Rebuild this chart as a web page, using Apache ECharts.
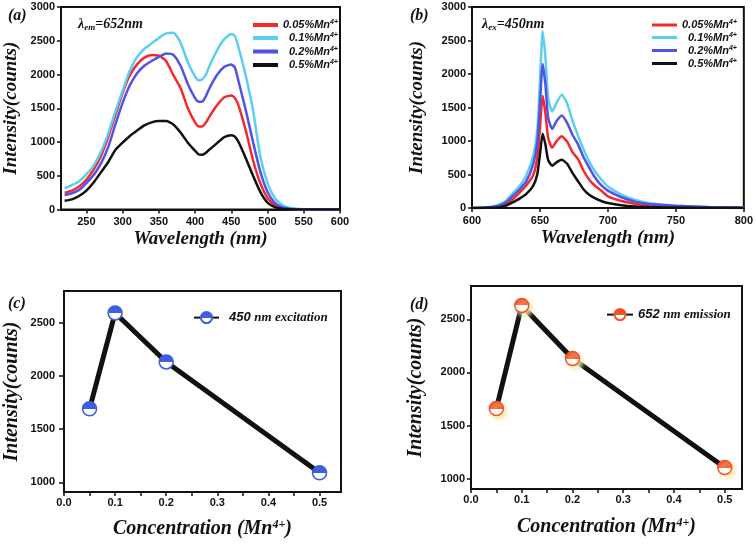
<!DOCTYPE html>
<html><head><meta charset="utf-8">
<script src="https://cdn.jsdelivr.net/npm/echarts@6/dist/echarts.min.js"></script>
<style>html,body{margin:0;padding:0;background:#fff}#c{width:756px;height:544px}</style>
</head><body><div id="c"></div>
<script>
// ---- data ----
const seriesNames = ['0.05%Mn4+', '0.1%Mn4+', '0.2%Mn4+', '0.5%Mn4+'];
const seriesColors = ['#f42a2a', '#5ccff0', '#5252e6', '#111111'];

// (a) excitation spectra, lambda_em = 652 nm
const waveA = [220,230,240,250,260,270,280,290,300,310,320,330,340,350,360,370,380,390,400,405,410,415,420,430,440,450,455,460,470,480,490,500,510,520,530,540,550,575,600];
const excA005 = [248,280,340,440,590,790,1070,1400,1730,1990,2150,2250,2290,2280,2200,1990,1800,1500,1290,1230,1230,1290,1380,1540,1660,1690,1650,1540,1170,730,390,170,65,20,5,0,0,0,0];
const excA01  = [313,360,420,520,650,850,1120,1450,1760,2060,2260,2380,2460,2540,2610,2620,2470,2180,1970,1915,1930,2000,2130,2350,2520,2600,2570,2400,1980,1470,790,390,170,70,25,10,3,0,0];
const excA02  = [214,240,290,390,510,680,920,1260,1580,1840,2020,2130,2200,2260,2310,2290,2130,1860,1650,1595,1600,1680,1800,1990,2110,2150,2100,1900,1470,1000,560,260,100,35,10,2,0,0,0];
const excA05  = [130,150,200,280,400,550,700,880,990,1090,1170,1245,1290,1310,1310,1260,1140,990,870,815,810,840,890,980,1070,1100,1080,1000,760,500,260,100,35,10,2,0,0,0,0];

// (b) emission spectra, lambda_ex = 450 nm
const waveB = [600,605,610,615,620,625,630,635,640,645,648,650,652,654,656,659,662,666,670,674,678,682,686,690,695,700,710,720,730,740,750,775,800];
const emB005 = [0,1,4,10,25,60,130,230,340,490,750,1200,1670,1420,1050,900,990,1070,990,830,730,560,430,340,260,175,105,65,40,28,20,8,2];
const emB01  = [0,2,8,22,50,110,220,330,490,780,1150,1900,2640,2250,1650,1440,1560,1690,1560,1300,1080,880,700,560,430,320,200,120,75,50,35,15,5];
const emB02  = [0,2,6,15,40,85,180,280,400,650,980,1550,2150,1850,1350,1180,1290,1380,1270,1090,950,760,610,470,340,260,160,95,60,45,32,12,3];
const emB05  = [0,1,2,5,12,35,85,140,210,330,500,800,1110,950,720,630,680,720,660,520,400,280,200,150,105,75,40,22,14,10,8,3,1];

// (c) intensity vs concentration, 450 nm excitation
const concC = [0.05, 0.1, 0.2, 0.5];
const intC  = [1690, 2590, 2130, 1090];
// (d) intensity vs concentration, 652 nm emission
const concD = [0.05, 0.1, 0.2, 0.5];
const intD  = [1660, 2630, 2130, 1105];

// tick labels
const ticksAx = [250,300,350,400,450,500,550,600];
const ticksConcLabel = [0, 0.1, 0.2, 0.3, 0.4, 0.5];
const ticksConcTick = [0,0.05,0.1,0.15,0.2,0.25,0.3,0.35,0.4,0.45,0.5];
const ticksIntCD = [1000, 1500, 2000, 2500];

// ---- styles ----
const SERIF = "'Liberation Serif','Times New Roman',serif";
const SANS = "'Liberation Sans',Arial,sans-serif";
const ink = '#111';
const plain = v => String(v);

function axisBase(extra) {
  return Object.assign({
    type: 'value',
    axisLine: { show: true, lineStyle: { color: ink, width: 2 } },
    axisTick: { show: true, length: 4, lineStyle: { color: ink, width: 1.5 } },
    axisLabel: { color: ink, fontWeight: 'bold', fontFamily: SANS, fontSize: 11, formatter: plain },
    splitLine: { show: false },
    nameLocation: 'middle',
    nameTextStyle: { color: ink, fontFamily: SERIF, fontWeight: 'bold', fontStyle: 'italic', fontSize: 19 }
  }, extra);
}
const superRich = {
  a: { fontFamily: SERIF, fontWeight: 'bold', fontStyle: 'italic', fontSize: 20, color: ink },
  s: { fontFamily: SERIF, fontWeight: 'bold', fontStyle: 'italic', fontSize: 12, color: ink, verticalAlign: 'top' }
};

function specSeries(xs, ys, idx, gi) {
  return {
    type: 'line', name: seriesNames[idx], xAxisIndex: gi, yAxisIndex: gi,
    data: xs.map((x, i) => [x, ys[i]]),
    symbol: 'none', smooth: 0.2,
    lineStyle: { width: 2.5, color: seriesColors[idx] },
    itemStyle: { color: seriesColors[idx] },
    z: 2 + idx
  };
}
function halfGrad(c) {
  return { type: 'linear', x: 0, y: 0, x2: 0, y2: 1,
    colorStops: [{ offset: 0, color: c }, { offset: 0.5, color: c }, { offset: 0.5, color: '#fff' }, { offset: 1, color: '#fff' }] };
}

// right-align legend labels: measure text and pad on the left
const mctx = document.createElement('canvas').getContext('2d');
mctx.font = "italic bold 11px 'Liberation Sans', Arial, sans-serif";
const baseOf = n => n.replace('4+', '');
const maxW = Math.max.apply(null, seriesNames.map(n => mctx.measureText(baseOf(n)).width));
const specFormatter = n => {
  const pad = Math.max(0, Math.round(maxW - mctx.measureText(baseOf(n)).width));
  return (pad > 0 ? '{p' + pad + '|}' : '') + '{t|' + baseOf(n) + '}{s|4+}';
};
const specRich = {
  t: { fontFamily: SANS, fontWeight: 'bold', fontStyle: 'italic', fontSize: 11, lineHeight: 12, color: ink },
  s: { fontFamily: SANS, fontWeight: 'bold', fontStyle: 'italic', fontSize: 7, verticalAlign: 'top', lineHeight: 12, color: ink }
};
for (let w = 1; w <= 30; w++) specRich['p' + w] = { width: w, lineHeight: 12 };
const specLegendText = { color: ink, rich: specRich };
const lblStyle = { color: ink, fontWeight: 'bold', fontFamily: SANS, fontSize: 11, formatter: plain };

const chart = echarts.init(document.getElementById('c'));
chart.setOption({
  animation: false,
  backgroundColor: '#fff',
  title: [
    { text: '(a)', left: 3, top: 3, textStyle: { fontFamily: SERIF, fontWeight: 'bold', fontStyle: 'italic', fontSize: 16, color: ink } },
    { text: '(b)', left: 405, top: 3, textStyle: { fontFamily: SERIF, fontWeight: 'bold', fontStyle: 'italic', fontSize: 16, color: ink } },
    { text: '(c)', left: 3, top: 291, textStyle: { fontFamily: SERIF, fontWeight: 'bold', fontStyle: 'italic', fontSize: 16, color: ink } },
    { text: '(d)', left: 405, top: 292, textStyle: { fontFamily: SERIF, fontWeight: 'bold', fontStyle: 'italic', fontSize: 16, color: ink } },
    { text: '{l|λ}{b|em}{l|=652nm}', left: 73, top: 11, textStyle: { rich: {
      l: { fontFamily: SERIF, fontWeight: 'bold', fontStyle: 'italic', fontSize: 14, color: ink, lineHeight: 16 },
      b: { fontFamily: SERIF, fontWeight: 'bold', fontStyle: 'italic', fontSize: 9, color: ink, verticalAlign: 'bottom', lineHeight: 16 } } } },
    { text: '{l|λ}{b|ex}{l|=450nm}', left: 477, top: 11, textStyle: { rich: {
      l: { fontFamily: SERIF, fontWeight: 'bold', fontStyle: 'italic', fontSize: 14, color: ink, lineHeight: 16 },
      b: { fontFamily: SERIF, fontWeight: 'bold', fontStyle: 'italic', fontSize: 9, color: ink, verticalAlign: 'bottom', lineHeight: 16 } } } }
  ],
  legend: [
    { data: seriesNames, orient: 'vertical', left: 248, top: 14, itemWidth: 25, itemHeight: 4, itemGap: 1.5, icon: 'rect',
      formatter: specFormatter, textStyle: specLegendText, selectedMode: false },
    { data: seriesNames, orient: 'vertical', left: 647, top: 14, itemWidth: 25, itemHeight: 3, itemGap: 1, icon: 'rect',
      formatter: specFormatter, textStyle: specLegendText, selectedMode: false },
    { data: ['450 nm excitation'], left: 188, top: 306, itemWidth: 25, itemHeight: 14, selectedMode: false,
      formatter: () => '{n|450 }{t|nm excitation}',
      textStyle: { rich: {
        n: { fontFamily: SANS, fontWeight: 'bold', fontStyle: 'italic', fontSize: 13, color: ink, padding: [0, 0, 0, 5] },
        t: { fontFamily: SERIF, fontWeight: 'bold', fontStyle: 'italic', fontSize: 13, color: ink } } } },
    { data: ['652 nm emission'], left: 601, top: 303, itemWidth: 26, itemHeight: 14, selectedMode: false,
      formatter: () => '{n|652 }{t|nm emission}',
      textStyle: { rich: {
        n: { fontFamily: SANS, fontWeight: 'bold', fontStyle: 'italic', fontSize: 13, color: ink },
        t: { fontFamily: SERIF, fontWeight: 'bold', fontStyle: 'italic', fontSize: 13, color: ink } } } }
  ],
  grid: [
    { left: 61, top: 7, width: 279, height: 202.5, show: true, borderColor: ink, borderWidth: 2 },
    { left: 472, top: 7, width: 274, height: 201, show: true, borderColor: ink, borderWidth: 2 },
    { left: 64, top: 291, width: 277, height: 201, show: true, borderColor: ink, borderWidth: 2 },
    { left: 471, top: 286, width: 271, height: 203, show: true, borderColor: ink, borderWidth: 2 }
  ],
  xAxis: [
    axisBase({ gridIndex: 0, min: 215, max: 600, name: 'Wavelength (nm)', nameGap: 20,
      axisLabel: Object.assign({}, lblStyle, { margin: 7, customValues: ticksAx }),
      axisTick: { show: true, length: 4, lineStyle: { color: ink, width: 1.5 }, customValues: ticksAx } }),
    axisBase({ gridIndex: 1, min: 600, max: 800, interval: 50, name: 'Wavelength (nm)', nameGap: 21,
      axisLabel: Object.assign({}, lblStyle, { margin: 7 }) }),
    axisBase({ gridIndex: 2, min: 0, max: 0.542, name: '{a|Concentration (Mn}{s|4+}{a|)}', nameGap: 27,
      nameTextStyle: { rich: superRich },
      axisLabel: Object.assign({}, lblStyle, { margin: 5, customValues: ticksConcLabel, formatter: v => v.toFixed(1) }),
      axisTick: { show: true, length: 4, lineStyle: { color: ink, width: 1.5 }, customValues: ticksConcTick } }),
    axisBase({ gridIndex: 3, min: 0, max: 0.534, name: '{a|Concentration (Mn}{s|4+}{a|)}', nameGap: 28,
      nameTextStyle: { rich: superRich },
      axisLabel: Object.assign({}, lblStyle, { margin: 5, customValues: ticksConcLabel, formatter: v => v.toFixed(1) }),
      axisTick: { show: true, length: 4, lineStyle: { color: ink, width: 1.5 }, customValues: ticksConcTick } })
  ],
  yAxis: [
    axisBase({ gridIndex: 0, min: 0, max: 3000, interval: 500, name: 'Intensity(counts)', nameGap: 40,
      axisLabel: Object.assign({}, lblStyle, { margin: 6 }) }),
    axisBase({ gridIndex: 1, min: 0, max: 3000, interval: 500, name: 'Intensity(counts)', nameGap: 45,
      axisLabel: Object.assign({}, lblStyle, { margin: 6 }) }),
    axisBase({ gridIndex: 2, min: 909, max: 2796, name: 'Intensity(counts)', nameGap: 42,
      nameTextStyle: { color: ink, fontFamily: SERIF, fontWeight: 'bold', fontStyle: 'italic', fontSize: 20 },
      axisLabel: Object.assign({}, lblStyle, { margin: 9, customValues: ticksIntCD }),
      axisTick: { show: true, length: 5, lineStyle: { color: ink, width: 1.5 }, customValues: ticksIntCD } }),
    axisBase({ gridIndex: 3, min: 903, max: 2813, name: 'Intensity(counts)', nameGap: 45,
      nameTextStyle: { color: ink, fontFamily: SERIF, fontWeight: 'bold', fontStyle: 'italic', fontSize: 20 },
      axisLabel: Object.assign({}, lblStyle, { margin: 6, customValues: ticksIntCD }),
      axisTick: { show: true, length: 4, lineStyle: { color: ink, width: 1.5 }, customValues: ticksIntCD } })
  ],
  series: [
    specSeries(waveA, excA005, 0, 0),
    specSeries(waveA, excA01, 1, 0),
    specSeries(waveA, excA02, 2, 0),
    specSeries(waveA, excA05, 3, 0),
    specSeries(waveB, emB005, 0, 1),
    specSeries(waveB, emB01, 1, 1),
    specSeries(waveB, emB02, 2, 1),
    specSeries(waveB, emB05, 3, 1),
    { type: 'line', name: '450 nm excitation', xAxisIndex: 2, yAxisIndex: 2,
      data: concC.map((x, i) => [x, intC[i]]),
      symbol: 'circle', symbolSize: 14,
      lineStyle: { color: ink, width: 5 },
      itemStyle: { color: halfGrad('#3c5ee0'), borderColor: '#3c5ee0', borderWidth: 1.5 } },
    { type: 'line', name: '652 nm emission', xAxisIndex: 3, yAxisIndex: 3,
      data: concD.map((x, i) => [x, intD[i]]),
      symbol: 'circle', symbolSize: 14,
      lineStyle: { color: ink, width: 5 },
      itemStyle: { color: halfGrad('#f2522a'), borderColor: '#f2522a', borderWidth: 1.5,
        shadowColor: 'rgba(245,232,170,0.95)', shadowBlur: 4, shadowOffsetX: 3, shadowOffsetY: 3 } }
  ]
});
</script></body></html>
